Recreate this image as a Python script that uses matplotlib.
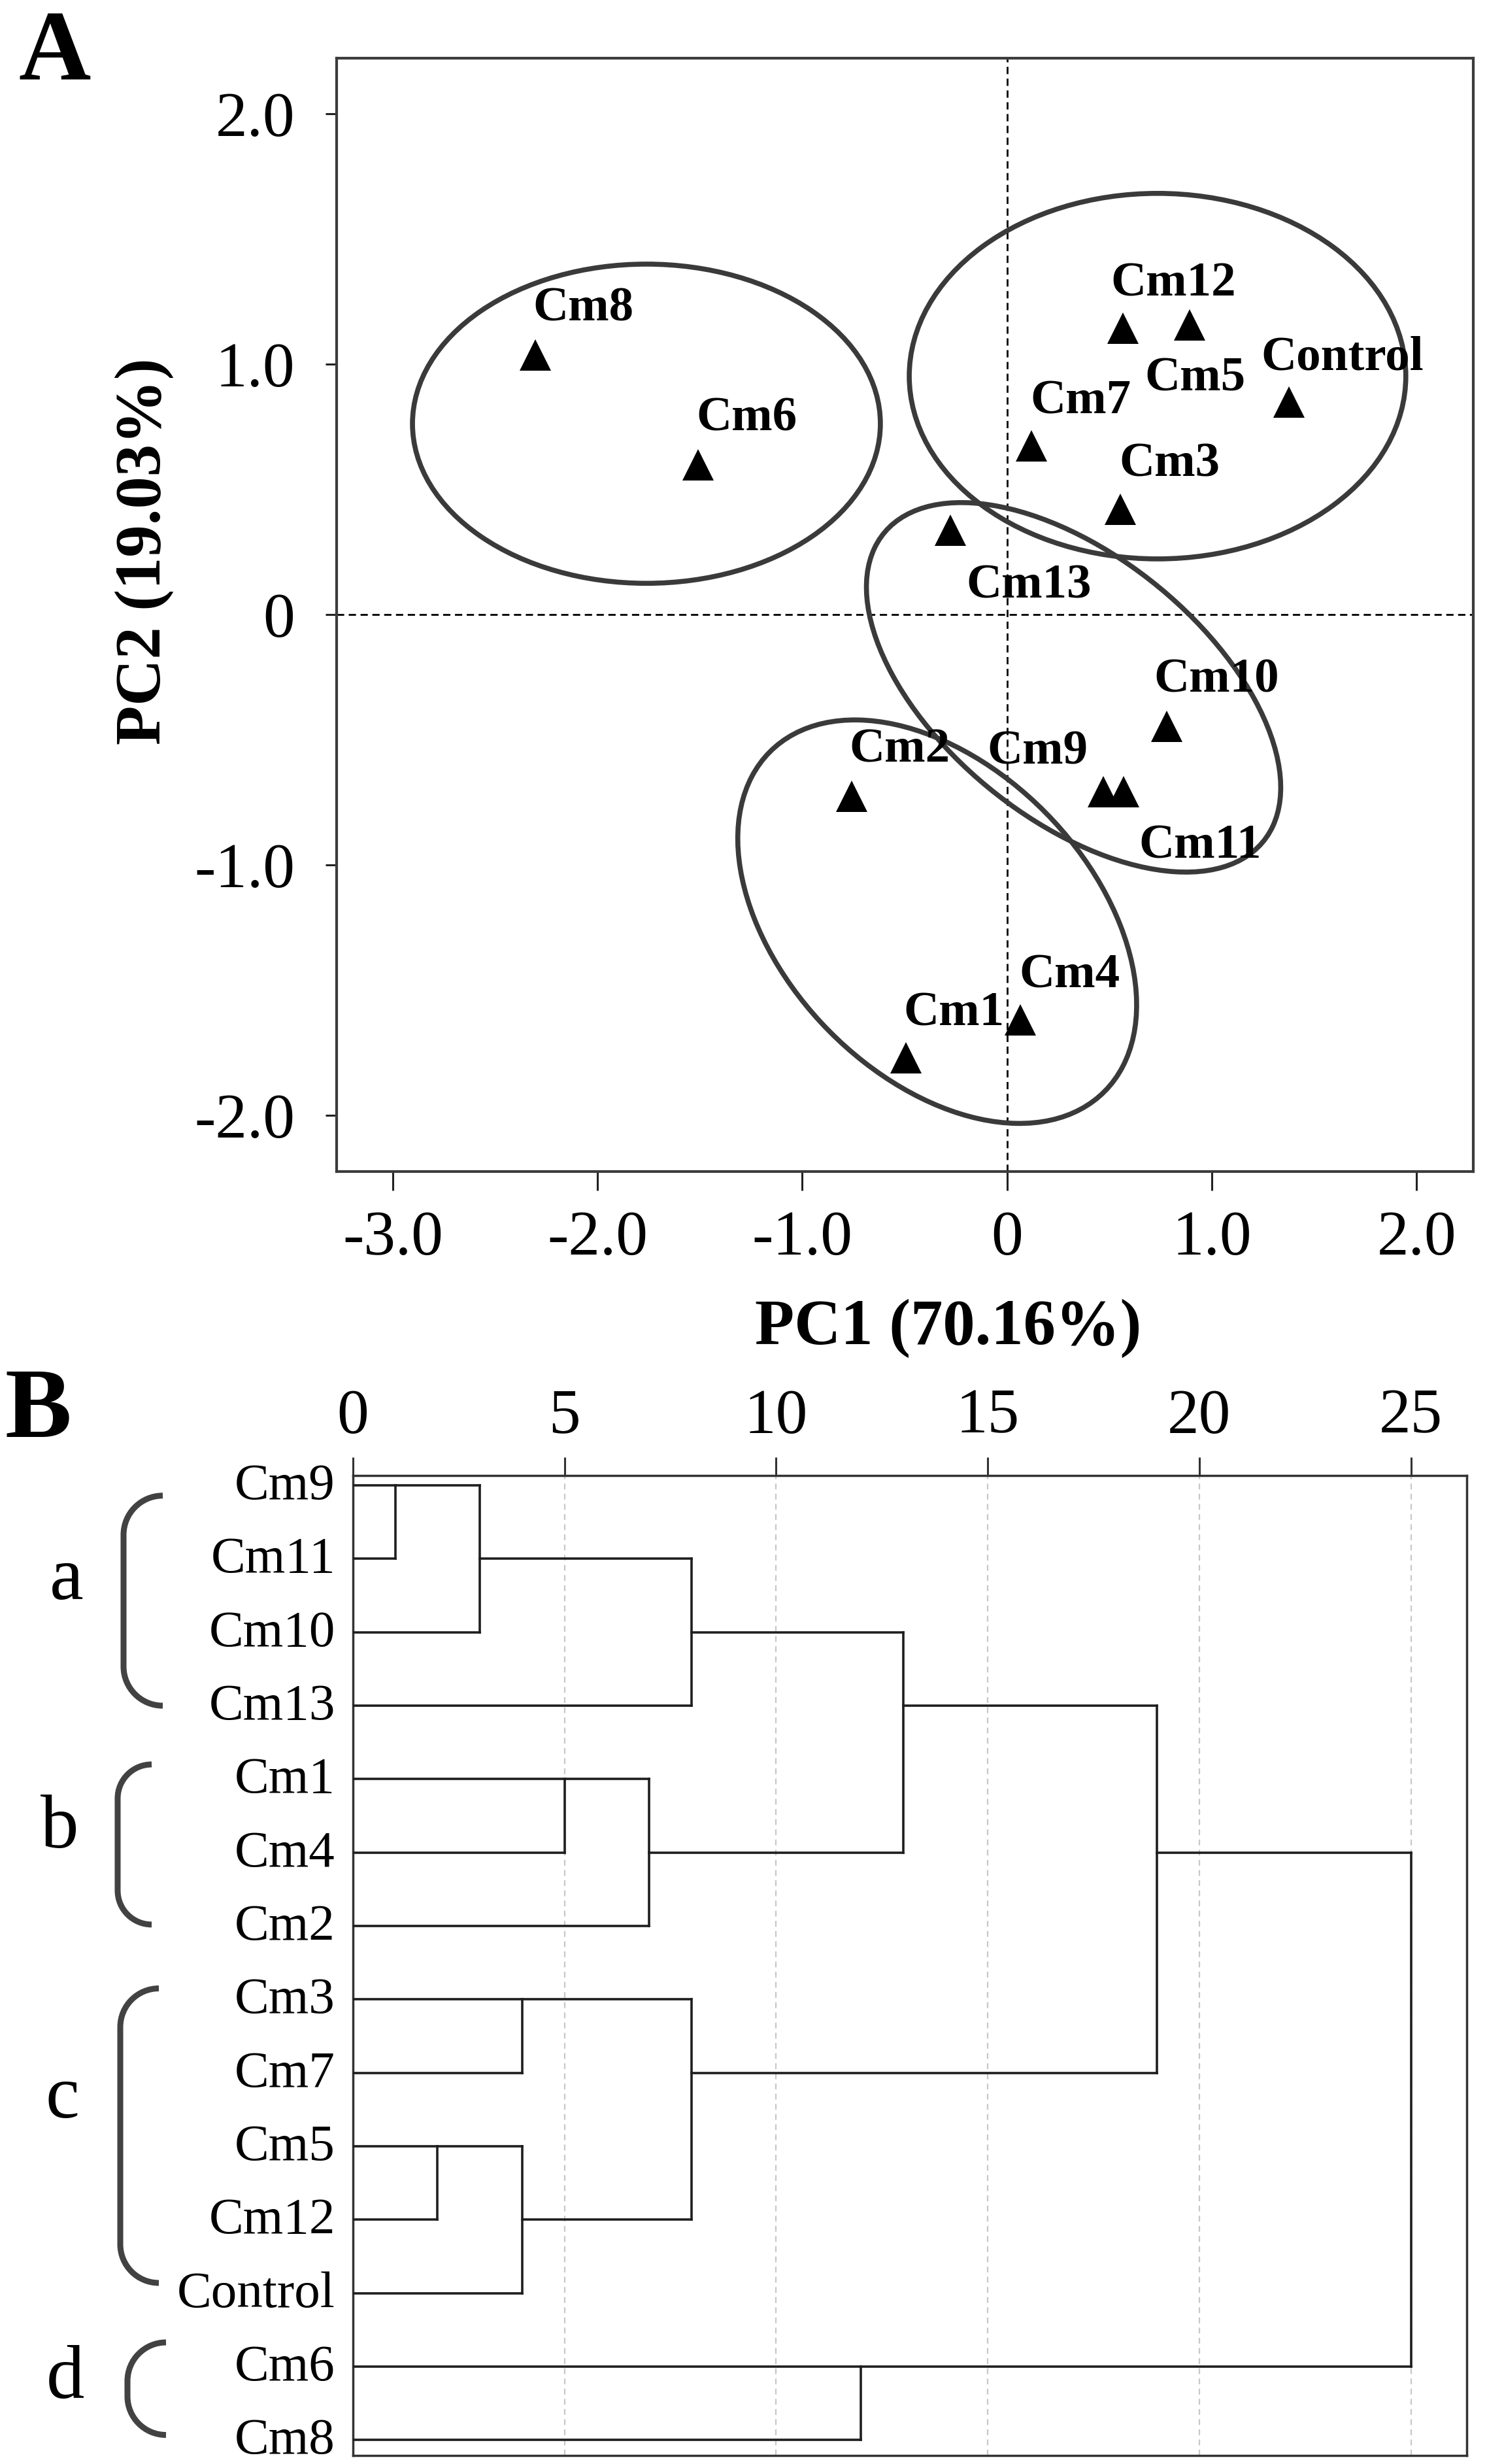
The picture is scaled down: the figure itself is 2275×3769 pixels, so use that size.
import matplotlib
matplotlib.use('Agg')
import matplotlib.pyplot as plt
from matplotlib.patches import Ellipse, PathPatch
from matplotlib.path import Path
from matplotlib.transforms import blended_transform_factory

plt.rcParams['font.family'] = ['Liberation Serif', 'DejaVu Serif']

# ---- 数据: PCA 得分 (图A) ----
names = ['Cm1', 'Cm2', 'Cm3', 'Cm4', 'Cm5', 'Cm6', 'Cm7', 'Cm8', 'Cm9',
         'Cm10', 'Cm11', 'Cm12', 'Cm13', 'Control']
pc1 = [-0.494, -0.760, 0.553, 0.066, 0.892, -1.508, 0.120, -2.303, 0.469,
       0.781, 0.569, 0.567, -0.276, 1.378]
pc2 = [-1.771, -0.725, 0.420, -1.620, 1.157, 0.599, 0.674, 1.037, -0.709,
       -0.446, -0.709, 1.144, 0.337, 0.849]

# 分组椭圆: 中心x, 中心y, 宽, 高, 角度
ell_x = [-1.761, 0.735, 0.325, -0.341]
ell_y = [0.762, 0.952, -0.291, -1.227]
ell_w = [2.285, 2.425, 2.240, 2.150]
ell_h = [1.275, 1.460, 1.120, 1.330]
ell_ang = [0, 0, -29.7, -32.6]

xticks_a = [-3.0, -2.0, -1.0, 0, 1.0, 2.0]
xticklabels_a = ['-3.0', '-2.0', '-1.0', '0', '1.0', '2.0']
yticks_a = [2.0, 1.0, 0, -1.0, -2.0]
yticklabels_a = ['2.0', '1.0', '0', '-1.0', '-2.0']

# ---- 数据: 聚类树 (图B) ----
leaves = ['Cm9', 'Cm11', 'Cm10', 'Cm13', 'Cm1', 'Cm4', 'Cm2', 'Cm3', 'Cm7',
          'Cm5', 'Cm12', 'Control', 'Cm6', 'Cm8']
merge_left = ['Cm9', 'n1', 'n2', 'Cm1', 'n4', 'n3', 'Cm3', 'Cm5', 'n8', 'n7',
              'n6', 'Cm6', 'n11']
merge_right = ['Cm11', 'Cm10', 'Cm13', 'Cm4', 'Cm2', 'n5', 'Cm7', 'Cm12',
               'Control', 'n9', 'n10', 'Cm8', 'n12']
merge_dist = [1, 3, 8, 5, 7, 13, 4, 2, 4, 8, 19, 12, 25]
xticks_b = [0, 5, 10, 15, 20, 25]

groups = ['a', 'b', 'c', 'd']

# ---- 样式 / 位置 ----
W, H, DPI = 2275, 3769, 100
PX = 72.0 / DPI  # 像素 -> 磅

# 标签偏移 (像素, 相对点中心): dx, dy(向上为正), 对齐方式
label_off = {
    'Cm1': (-4, 50, 'left'), 'Cm2': (-3, 52, 'left'), 'Cm3': (-2, 51, 'left'),
    'Cm4': (-2, 50, 'left'), 'Cm5': (-69, -101, 'left'), 'Cm6': (-3, 52, 'left'),
    'Cm7': (-2, 49, 'left'), 'Cm8': (-4, 52, 'left'), 'Cm9': (-23, 43, 'right'),
    'Cm10': (-20, 52, 'left'), 'Cm11': (23, -101, 'left'), 'Cm12': (-19, 49, 'left'),
    'Cm13': (24, -104, 'left'), 'Control': (-43, 49, 'left'),
}

fig = plt.figure(figsize=(W / DPI, H / DPI), dpi=DPI)

# ================= 图 A =================
axA = fig.add_axes([515 / W, 1 - 1792 / H, (2254 - 515) / W, (1792 - 89) / H])
axA.set_xlim(-3.274, 2.277)
axA.set_ylim(-2.225, 2.222)

axA.axvline(0, color='black', lw=2, linestyle=(0, (4, 2.5)), zorder=1)
axA.axhline(0, color='black', lw=2, linestyle=(0, (4, 2.5)), zorder=1)

for cx, cy, w, h, ang in zip(ell_x, ell_y, ell_w, ell_h, ell_ang):
    axA.add_patch(Ellipse((cx, cy), w, h, angle=ang, fill=False,
                          edgecolor='#3a3a3a', lw=5.5, zorder=2))

axA.plot(pc1, pc2, linestyle='none', marker='^', markersize=34,
         color='black', markeredgewidth=0, zorder=3)

for n, x, y in zip(names, pc1, pc2):
    dx, dy, ha = label_off[n]
    axA.annotate(n, (x, y), xytext=(dx * PX, dy * PX), textcoords='offset points',
                 ha=ha, va='baseline', fontsize=54, fontweight='bold', zorder=4)

axA.set_xticks(xticks_a)
axA.set_xticklabels(xticklabels_a)
axA.set_yticks(yticks_a)
axA.set_yticklabels(yticklabels_a)
axA.tick_params(axis='both', labelsize=70, width=2.2, color='#222222', direction='out')
axA.tick_params(axis='x', length=21, pad=22)
axA.tick_params(axis='y', length=12, pad=34)
for s in axA.spines.values():
    s.set_linewidth(3)
    s.set_color('#3c3c3c')

fig.text(1451 / W, 1 - 2056 / H, 'PC1 (70.16%)', ha='center', va='baseline',
         fontsize=71, fontweight='bold')
fig.text(221 / W, 1 - 843 / H, 'PC2 (19.03%)', ha='center', va='center',
         rotation=90, fontsize=71, fontweight='bold')
fig.text(28 / W, 1 - 122 / H, 'A', ha='left', va='baseline', fontsize=110,
         fontweight='bold')

# ================= 图 B =================
axB = fig.add_axes([540 / W, 1 - 3756 / H, (2244 - 540) / W, (3756 - 2257) / H])
axB.set_xlim(0, 26.32)
axB.set_ylim(13.21, -0.134)
trB = blended_transform_factory(axB.transAxes, axB.transData)
row_px = (3756 - 2257) / (13.21 + 0.134)

for t in xticks_b[1:]:
    axB.axvline(t, color='#c8c8c8', lw=1.6, linestyle=(0, (4, 3)), zorder=1)

pos = {name: (0.0, i) for i, name in enumerate(leaves)}
lk = dict(color='#1e1e1e', lw=2.6, solid_capstyle='projecting', zorder=3)
for k, (a, b, d) in enumerate(zip(merge_left, merge_right, merge_dist)):
    xa, ya = pos[a]
    xb, yb = pos[b]
    axB.plot([xa, d], [ya, ya], **lk)
    axB.plot([xb, d], [yb, yb], **lk)
    axB.plot([d, d], [ya, yb], **lk)
    pos['n%d' % (k + 1)] = (d, (ya + yb) // 2)

# 叶子标签: 右对齐, 基线略低于分支线
for i, name in enumerate(leaves):
    axB.text(-27 / 1704, i + 21 / row_px, name, transform=trB, ha='right',
             va='baseline', fontsize=57, clip_on=False)

axB.xaxis.tick_top()
axB.set_xticks(xticks_b)
axB.set_xticklabels([str(t) for t in xticks_b])
axB.set_yticks([])
axB.tick_params(axis='x', labelsize=70, length=20, width=2.2, color='#333333', pad=12)
for s in axB.spines.values():
    s.set_linewidth(2.5)
    s.set_color('#333333')

# 分组括号 a-d (像素位置换算到坐标轴比例)
br_top = [0.14, 3.80, 6.85, 11.67]
br_bot = [3.00, 5.98, 10.86, 12.93]
br_xv = [189, 180, 184, 195]
br_xe = [249, 232, 243, 254]
let_x = [102, 91, 95, 100]
let_y = [1.55, 4.93, 8.61, 12.43]
k4 = 0.5523
for g, y0, y1, xv_px, xe_px, lx, ly in zip(groups, br_top, br_bot, br_xv, br_xe,
                                           let_x, let_y):
    xv = (xv_px - 540) / 1704
    xe = (xe_px - 540) / 1704
    rx = xe - xv
    ry = (xe_px - xv_px) / row_px
    verts = [(xe, y0), (xv + rx * (1 - k4), y0), (xv, y0 + ry * (1 - k4)), (xv, y0 + ry),
             (xv, y1 - ry),
             (xv, y1 - ry * (1 - k4)), (xv + rx * (1 - k4), y1), (xe, y1)]
    codes = [Path.MOVETO, Path.CURVE4, Path.CURVE4, Path.CURVE4,
             Path.LINETO,
             Path.CURVE4, Path.CURVE4, Path.CURVE4]
    axB.add_patch(PathPatch(Path(verts, codes), fill=False, edgecolor='#424242',
                            lw=6.5, transform=trB, clip_on=False, capstyle='butt'))
    axB.text((lx - 540) / 1704, ly, g, transform=trB, ha='center', va='baseline',
             fontsize=84, clip_on=False)

fig.text(8 / W, 1 - 2198 / H, 'B', ha='left', va='baseline', fontsize=110,
         fontweight='bold')

fig.savefig('out.png', dpi=DPI, facecolor='white')
